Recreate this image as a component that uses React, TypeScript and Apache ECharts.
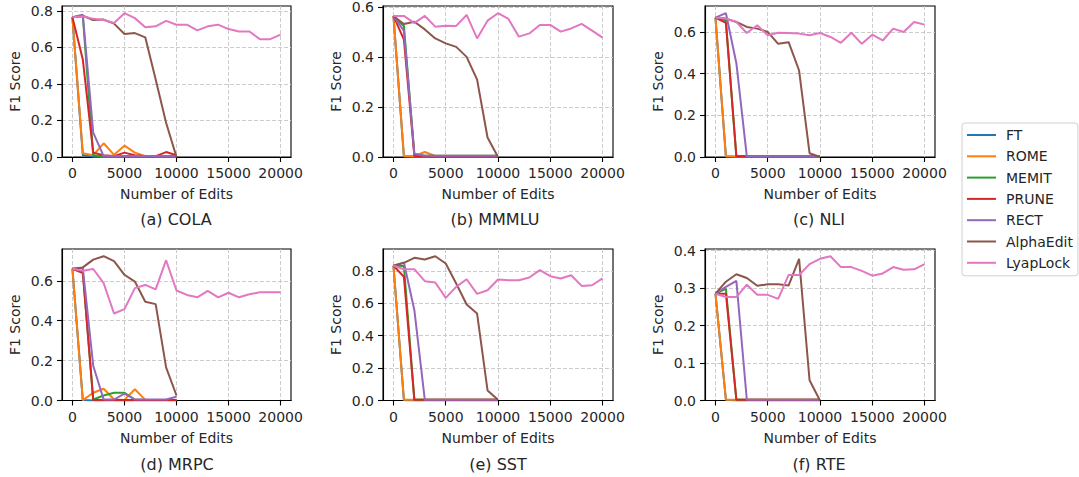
import React, { useEffect, useRef } from 'react';
import * as echarts from 'echarts';

// ---------- data ----------
const EDITS_SHORT = [0, 1000, 2000, 3000, 4000, 5000, 6000, 7000, 8000, 9000, 10000];
const EDITS_LONG = [0, 1000, 2000, 3000, 4000, 5000, 6000, 7000, 8000, 9000, 10000, 11000, 12000, 13000, 14000, 15000, 16000, 17000, 18000, 19000, 20000];
const METHODS = ['FT', 'ROME', 'MEMIT', 'PRUNE', 'RECT', 'AlphaEdit', 'LyapLock'];
const X_TICKS = [0, 5000, 10000, 15000, 20000];

// (a) COLA
const COLA_FT = [0.765, 0.01, 0.002, 0, 0, 0, 0, 0, 0, 0, 0];
const COLA_ROME = [0.765, 0.02, 0.01, 0.075, 0.012, 0.062, 0.024, 0.005, 0.005, 0.005, 0.005];
const COLA_MEMIT = [0.765, 0.77, 0.01, 0.003, 0.003, 0.003, 0.003, 0.003, 0.003, 0.003, 0.003];
const COLA_PRUNE = [0.765, 0.533, 0.024, 0.01, 0.005, 0.024, 0.01, 0.005, 0.005, 0.027, 0.01];
const COLA_RECT = [0.765, 0.778, 0.133, 0.005, 0.005, 0.005, 0.005, 0.005, 0.005, 0.005, 0.005];
const COLA_ALPHA = [0.765, 0.773, 0.75, 0.752, 0.73, 0.673, 0.678, 0.655, 0.424, 0.187, 0];
const COLA_LYAP = [0.765, 0.77, 0.756, 0.75, 0.733, 0.787, 0.76, 0.71, 0.715, 0.745, 0.724, 0.724, 0.693, 0.715, 0.724, 0.7, 0.687, 0.687, 0.645, 0.645, 0.67];
const COLA_TICKS = [0, 0.2, 0.4, 0.6, 0.8];

// (b) MMMLU
const MMMLU_FT = [0.565, 0.002, 0, 0, 0, 0, 0, 0, 0, 0, 0];
const MMMLU_ROME = [0.565, 0.004, 0.004, 0.02, 0.004, 0.004, 0.004, 0.004, 0.004, 0.004, 0.004];
const MMMLU_MEMIT = [0.565, 0.525, 0.01, 0.005, 0.005, 0.005, 0.005, 0.005, 0.005, 0.005, 0.005];
const MMMLU_PRUNE = [0.565, 0.47, 0.004, 0.004, 0.004, 0.004, 0.004, 0.004, 0.004, 0.004, 0.004];
const MMMLU_RECT = [0.565, 0.505, 0.013, 0.005, 0.005, 0.005, 0.005, 0.005, 0.005, 0.005, 0.005];
const MMMLU_ALPHA = [0.565, 0.533, 0.542, 0.511, 0.475, 0.455, 0.441, 0.401, 0.31, 0.078, 0];
const MMMLU_LYAP = [0.565, 0.565, 0.536, 0.565, 0.522, 0.526, 0.525, 0.569, 0.475, 0.546, 0.576, 0.553, 0.482, 0.495, 0.529, 0.529, 0.502, 0.515, 0.533, 0.506, 0.478];
const MMMLU_TICKS = [0, 0.2, 0.4, 0.6];

// (c) NLI
const NLI_FT = [0.669, 0.002, 0, 0, 0, 0, 0, 0, 0, 0, 0];
const NLI_ROME = [0.669, 0.003, 0.003, 0.003, 0.003, 0.003, 0.003, 0.003, 0.003, 0.003, 0.003];
const NLI_MEMIT = [0.669, 0.655, 0.003, 0.003, 0.003, 0.003, 0.003, 0.003, 0.003, 0.003, 0.003];
const NLI_PRUNE = [0.669, 0.643, 0.003, 0.003, 0.003, 0.003, 0.003, 0.003, 0.003, 0.003, 0.003];
const NLI_RECT = [0.669, 0.69, 0.45, 0.003, 0.003, 0.003, 0.003, 0.003, 0.003, 0.003, 0.003];
const NLI_ALPHA = [0.669, 0.664, 0.648, 0.624, 0.616, 0.6, 0.543, 0.551, 0.415, 0.018, 0];
const NLI_LYAP = [0.669, 0.664, 0.648, 0.595, 0.632, 0.584, 0.596, 0.595, 0.592, 0.584, 0.595, 0.576, 0.548, 0.596, 0.543, 0.587, 0.559, 0.616, 0.6, 0.648, 0.635];
const NLI_TICKS = [0, 0.2, 0.4, 0.6];

// (d) MRPC
const MRPC_FT = [0.66, 0.002, 0, 0, 0, 0, 0, 0, 0, 0, 0];
const MRPC_ROME = [0.66, 0.002, 0.039, 0.059, 0.005, 0.003, 0.056, 0.003, 0.003, 0.003, 0.003];
const MRPC_MEMIT = [0.66, 0.645, 0.005, 0.025, 0.039, 0.039, 0.005, 0.003, 0.003, 0.003, 0.003];
const MRPC_PRUNE = [0.66, 0.639, 0.002, 0.002, 0.002, 0.002, 0.002, 0.002, 0.002, 0.002, 0.002];
const MRPC_RECT = [0.66, 0.664, 0.174, 0.005, 0.005, 0.035, 0.005, 0.005, 0.005, 0.005, 0.019];
const MRPC_ALPHA = [0.66, 0.667, 0.706, 0.723, 0.698, 0.63, 0.596, 0.495, 0.483, 0.166, 0.025];
const MRPC_LYAP = [0.66, 0.65, 0.659, 0.588, 0.436, 0.458, 0.563, 0.579, 0.557, 0.703, 0.551, 0.529, 0.517, 0.549, 0.517, 0.54, 0.517, 0.532, 0.542, 0.542, 0.542];
const MRPC_TICKS = [0, 0.2, 0.4, 0.6];

// (e) SST
const SST_FT = [0.831, 0.002, 0, 0, 0, 0, 0, 0, 0, 0, 0];
const SST_ROME = [0.831, 0.004, 0.004, 0.004, 0.004, 0.004, 0.004, 0.004, 0.004, 0.004, 0.004];
const SST_MEMIT = [0.831, 0.83, 0.004, 0.004, 0.004, 0.004, 0.004, 0.004, 0.004, 0.004, 0.004];
const SST_PRUNE = [0.831, 0.763, 0.004, 0.004, 0.004, 0.004, 0.004, 0.004, 0.004, 0.004, 0.004];
const SST_RECT = [0.831, 0.851, 0.557, 0.004, 0.004, 0.004, 0.004, 0.004, 0.004, 0.004, 0.004];
const SST_ALPHA = [0.831, 0.849, 0.88, 0.87, 0.89, 0.845, 0.722, 0.592, 0.536, 0.062, 0.004];
const SST_LYAP = [0.831, 0.81, 0.81, 0.736, 0.728, 0.633, 0.701, 0.748, 0.658, 0.68, 0.746, 0.742, 0.742, 0.759, 0.804, 0.767, 0.753, 0.773, 0.707, 0.711, 0.753];
const SST_TICKS = [0, 0.2, 0.4, 0.6, 0.8];

// (f) RTE
const RTE_FT = [0.285, 0.002, 0, 0, 0, 0, 0, 0, 0, 0, 0];
const RTE_ROME = [0.285, 0.002, 0.002, 0.002, 0.002, 0.002, 0.002, 0.002, 0.002, 0.002, 0.002];
const RTE_MEMIT = [0.285, 0.298, 0.002, 0.002, 0.002, 0.002, 0.002, 0.002, 0.002, 0.002, 0.002];
const RTE_PRUNE = [0.285, 0.285, 0.002, 0.002, 0.002, 0.002, 0.002, 0.002, 0.002, 0.002, 0.002];
const RTE_RECT = [0.285, 0.303, 0.319, 0.002, 0.002, 0.002, 0.002, 0.002, 0.002, 0.002, 0.002];
const RTE_ALPHA = [0.285, 0.317, 0.337, 0.327, 0.306, 0.31, 0.31, 0.307, 0.378, 0.054, 0];
const RTE_LYAP = [0.285, 0.276, 0.276, 0.309, 0.282, 0.282, 0.271, 0.335, 0.335, 0.364, 0.378, 0.385, 0.356, 0.356, 0.346, 0.333, 0.339, 0.356, 0.349, 0.35, 0.364];
const RTE_TICKS = [0, 0.1, 0.2, 0.3, 0.4];

const PANEL_TITLES = ['(a) COLA', '(b) MMMLU', '(c) NLI', '(d) MRPC', '(e) SST', '(f) RTE'];
const PANEL_SERIES = [
  [COLA_FT, COLA_ROME, COLA_MEMIT, COLA_PRUNE, COLA_RECT, COLA_ALPHA, COLA_LYAP],
  [MMMLU_FT, MMMLU_ROME, MMMLU_MEMIT, MMMLU_PRUNE, MMMLU_RECT, MMMLU_ALPHA, MMMLU_LYAP],
  [NLI_FT, NLI_ROME, NLI_MEMIT, NLI_PRUNE, NLI_RECT, NLI_ALPHA, NLI_LYAP],
  [MRPC_FT, MRPC_ROME, MRPC_MEMIT, MRPC_PRUNE, MRPC_RECT, MRPC_ALPHA, MRPC_LYAP],
  [SST_FT, SST_ROME, SST_MEMIT, SST_PRUNE, SST_RECT, SST_ALPHA, SST_LYAP],
  [RTE_FT, RTE_ROME, RTE_MEMIT, RTE_PRUNE, RTE_RECT, RTE_ALPHA, RTE_LYAP],
];
const PANEL_TICKS = [COLA_TICKS, MMMLU_TICKS, NLI_TICKS, MRPC_TICKS, SST_TICKS, RTE_TICKS];

// ---------- styles / layout ----------
const COLORS = ['#1f77b4', '#ff7f0e', '#2ca02c', '#d62728', '#9467bd', '#8c564b', '#e377c2'];
const FONT = '"DejaVu Sans", Verdana, sans-serif';
const TEXT_COLOR = '#262626';
const GRID_BOXES = [
  { left: 62, top: 6, width: 229, height: 151 },
  { left: 383, top: 6, width: 230, height: 151 },
  { left: 705, top: 6, width: 230, height: 151 },
  { left: 62, top: 249, width: 229, height: 151.5 },
  { left: 383, top: 249, width: 230, height: 151.5 },
  { left: 705, top: 249, width: 230, height: 151.5 },
];
const TITLE_POS = [
  [176, 219], [495, 219], [819, 219],
  [177, 464], [498, 464], [819, 464],
];

function buildOption() {
  const grid: any[] = [];
  const xAxis: any[] = [];
  const yAxis: any[] = [];
  const series: any[] = [];
  const graphic: any[] = [];

  PANEL_SERIES.forEach((panel, i) => {
    const box = GRID_BOXES[i];
    grid.push({
      ...box,
      show: true,
      borderColor: '#000',
      borderWidth: 1.1,
      backgroundColor: 'rgba(0,0,0,0)',
      containLabel: false,
    });
    let maxV = 0;
    panel.forEach((arr) => arr.forEach((v) => { if (v > maxV) maxV = v; }));
    const yMax = maxV * 1.05;
    const ticks = PANEL_TICKS[i];

    xAxis.push({
      gridIndex: i,
      type: 'value',
      min: -1000,
      max: 21000,
      name: 'Number of Edits',
      nameLocation: 'middle',
      nameGap: 30,
      nameTextStyle: { fontSize: 14, color: TEXT_COLOR, fontFamily: FONT },
      axisLine: { show: true, onZero: false, lineStyle: { color: '#000', width: 1.1 } },
      axisTick: { show: true, inside: false, length: 5, customValues: X_TICKS, lineStyle: { color: '#000', width: 1.1 } },
      axisLabel: {
        show: true,
        customValues: X_TICKS,
        margin: 9,
        fontSize: 14,
        color: TEXT_COLOR,
        fontFamily: FONT,
        formatter: (v: number) => String(Math.round(v)),
      },
      splitLine: { show: true, lineStyle: { color: '#c6c6c6', type: [4, 2], width: 0.9 } },
    });
    yAxis.push({
      gridIndex: i,
      type: 'value',
      min: 0,
      max: yMax,
      name: 'F1 Score',
      nameLocation: 'middle',
      nameGap: 40,
      nameRotate: 90,
      nameTextStyle: { fontSize: 14, color: TEXT_COLOR, fontFamily: FONT },
      axisLine: { show: true, onZero: false, lineStyle: { color: '#000', width: 1.1 } },
      axisTick: { show: true, inside: false, length: 5, customValues: ticks, lineStyle: { color: '#000', width: 1.1 } },
      axisLabel: {
        show: true,
        customValues: ticks,
        margin: 9,
        fontSize: 14,
        color: TEXT_COLOR,
        fontFamily: FONT,
        formatter: (v: number) => v.toFixed(1),
      },
      splitLine: { show: true, lineStyle: { color: '#c6c6c6', type: [4, 2], width: 0.9 } },
    });

    panel.forEach((vals, m) => {
      const xs = m === 6 ? EDITS_LONG : EDITS_SHORT;
      series.push({
        type: 'line',
        name: METHODS[m],
        xAxisIndex: i,
        yAxisIndex: i,
        data: xs.map((x, k) => [x, vals[k]]),
        symbol: 'none',
        showSymbol: false,
        color: COLORS[m],
        lineStyle: { width: 2, color: COLORS[m] },
        itemStyle: { color: COLORS[m] },
        z: 3,
        animation: false,
      });
    });

    graphic.push({
      type: 'text',
      x: TITLE_POS[i][0],
      y: TITLE_POS[i][1],
      style: {
        text: PANEL_TITLES[i],
        fontSize: 16,
        fontFamily: FONT,
        fill: TEXT_COLOR,
        textAlign: 'center',
        textVerticalAlign: 'middle',
        align: 'center',
        verticalAlign: 'middle',
      },
    });
  });

  return {
    animation: false,
    backgroundColor: '#fff',
    textStyle: { fontFamily: FONT },
    grid,
    xAxis,
    yAxis,
    series,
    graphic,
    legend: {
      data: METHODS.map((name, m) => ({ name, icon: 'rect', itemStyle: { color: COLORS[m] } })),
      orient: 'vertical',
      left: 962,
      top: 123,
      padding: [5, 5, 6, 5],
      itemWidth: 29,
      itemHeight: 2,
      itemGap: 7.3,
      backgroundColor: '#fff',
      borderColor: '#d0d0d0',
      borderWidth: 1,
      borderRadius: 3,
      textStyle: { fontSize: 14, color: TEXT_COLOR, fontFamily: FONT, padding: [0, 0, 0, 5] },
    },
  };
}

export default function App() {
  const ref = useRef<HTMLDivElement>(null);
  useEffect(() => {
    if (!ref.current) return;
    const chart = echarts.init(ref.current, undefined, { renderer: 'svg' });
    chart.setOption(buildOption() as any);
    return () => chart.dispose();
  }, []);
  return (
    <div
      ref={ref}
      style={{ position: 'absolute', left: 0, top: 0, width: 1079, height: 477, background: '#fff' }}
    />
  );
}
